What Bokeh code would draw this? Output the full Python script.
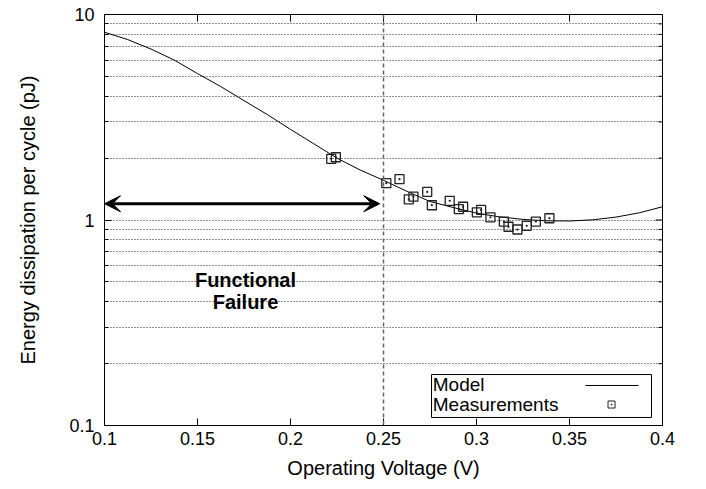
from bokeh.plotting import figure
from bokeh.models import FixedTicker, Span, Arrow, VeeHead, Label, BoxAnnotation
from bokeh.embed import file_html
from bokeh.resources import INLINE

# ---- data ----
voltage_model = [0.1, 0.1125, 0.125, 0.1375, 0.15, 0.1625, 0.175, 0.1875, 0.2, 0.2125,
                 0.225, 0.2375, 0.25, 0.2625, 0.275, 0.2875, 0.3, 0.3125, 0.325, 0.3375,
                 0.35, 0.3625, 0.375, 0.3875, 0.4]
energy_model = [8.20, 7.55, 6.79, 6.00, 5.16, 4.46, 3.81, 3.26, 2.76, 2.35,
                2.00, 1.75, 1.56, 1.38, 1.23, 1.15, 1.08, 1.035, 1.007, 0.991,
                0.989, 1.002, 1.033, 1.084, 1.16]

voltage_meas = [0.2219, 0.2244, 0.2515, 0.2586, 0.2636, 0.2661, 0.2735, 0.2760, 0.2856, 0.2905,
                0.2928, 0.3002, 0.3025, 0.3075, 0.3147, 0.3172, 0.3220, 0.3270, 0.3319, 0.3392]
energy_meas = [1.985, 2.02, 1.51, 1.58, 1.26, 1.30, 1.37, 1.18, 1.24, 1.13,
               1.16, 1.09, 1.12, 1.03, 0.983, 0.927, 0.899, 0.937, 0.983, 1.02]

x_ticks = [0.1, 0.15, 0.2, 0.25, 0.3, 0.35, 0.4]
x_tick_labels = ["0.1", "0.15", "0.2", "0.25", "0.3", "0.35", "0.4"]
y_ticks = [0.1, 1, 10]
y_tick_labels = ["0.1", "1", "10"]
y_minor = [0.2, 0.3, 0.4, 0.5, 0.6, 0.7, 0.8, 0.9, 2, 3, 4, 5, 6, 7, 8, 9]

failure_voltage = 0.25
arrow_level = 1.2

FONT = "Liberation Sans"
X0, X1 = 0.1, 0.4
Y0, Y1 = 0.1, 10

p = figure(width=706, height=489, x_range=(X0, X1), y_range=(Y0, Y1),
           y_axis_type="log", output_backend="svg", toolbar_location=None,
           min_border_left=104, min_border_right=44, min_border_top=14,
           min_border_bottom=64)
p.outline_line_color = "black"
p.outline_line_width = 1
p.background_fill_color = "white"
p.border_fill_color = "white"

xt = FixedTicker(ticks=x_ticks)
yt = FixedTicker(ticks=y_ticks, minor_ticks=y_minor)

# bottom axis
xa = p.xaxis[0]
xa.ticker = xt
xa.major_label_overrides = {v: s for v, s in zip(x_ticks, x_tick_labels)}
xa.axis_label = "Operating Voltage (V)"
xa.axis_label_text_font = FONT
xa.axis_label_text_font_style = "normal"
xa.axis_label_text_font_size = "20px"
xa.axis_label_text_color = "black"
xa.axis_label_standoff = 9
xa.major_label_text_font = FONT
xa.major_label_text_font_size = "18px"
xa.major_label_text_color = "black"
xa.major_label_standoff = 6
xa.major_tick_in = 7
xa.major_tick_out = 0
xa.minor_tick_in = 0
xa.minor_tick_out = 0
xa.axis_line_color = "black"
xa.major_tick_line_color = "black"

# left axis
ya = p.yaxis[0]
ya.ticker = yt
ya.major_label_overrides = {v: s for v, s in zip(y_ticks, y_tick_labels)}
ya.axis_label = "Energy dissipation per cycle (pJ)"
ya.axis_label_text_font = FONT
ya.axis_label_text_font_style = "normal"
ya.axis_label_text_font_size = "20px"
ya.axis_label_text_color = "black"
ya.axis_label_standoff = 27
ya.major_label_text_font = FONT
ya.major_label_text_font_size = "18px"
ya.major_label_text_color = "black"
ya.major_label_standoff = 10
ya.major_tick_in = 7
ya.major_tick_out = 0
ya.minor_tick_in = 4
ya.minor_tick_out = 0
ya.axis_line_color = "black"
ya.major_tick_line_color = "black"
ya.minor_tick_line_color = "black"

# grid
p.xgrid.visible = False
p.ygrid.ticker = yt
p.ygrid.grid_line_color = "#222222"
p.ygrid.grid_line_dash = "1 2"
p.ygrid.grid_line_width = 1
p.ygrid.minor_grid_line_color = "#222222"
p.ygrid.minor_grid_line_dash = "1 2"
p.ygrid.minor_grid_line_width = 1

# mirrored ticks (top and right), lengths in data units of the 558x411 frame
dx_major = 7 / 558 * (X1 - X0)
dy_major = 10 ** (7 / 205.5)
dx_minor = 4 / 558 * (X1 - X0)
p.segment(x0=x_ticks, y0=[Y1] * len(x_ticks), x1=x_ticks, y1=[Y1 / dy_major] * len(x_ticks),
          line_color="black", line_width=1)
p.segment(x0=[X1] * len(y_ticks), y0=y_ticks, x1=[X1 - dx_major] * len(y_ticks), y1=y_ticks,
          line_color="black", line_width=1)
p.segment(x0=[X1] * len(y_minor), y0=y_minor, x1=[X1 - dx_minor] * len(y_minor), y1=y_minor,
          line_color="black", line_width=1)

# failure boundary
p.add_layout(Span(location=failure_voltage, dimension="height", line_color="#666666",
                  line_dash="4 3", line_width=1.5))

# model and measurements
p.line(voltage_model, energy_model, line_color="black", line_width=1)
p.scatter(voltage_meas, energy_meas, marker="square_dot", size=9, fill_color=None,
          line_color="#222222", line_width=1.3)

# double arrow
p.add_layout(Arrow(x_start=0.1, y_start=arrow_level, x_end=0.248, y_end=arrow_level,
                   line_width=3, line_color="black",
                   start=VeeHead(size=16, fill_color="black", line_color="black"),
                   end=VeeHead(size=16, fill_color="black", line_color="black")))

# text
for txt, yy in (("Functional", 0.508), ("Failure", 0.397)):
    p.add_layout(Label(x=0.1758, y=yy, text=txt, text_align="center",
                       text_baseline="middle", text_font=FONT, text_font_style="bold",
                       text_font_size="20px", text_color="black"))

# legend (gnuplot style: text left, sample right)
p.add_layout(BoxAnnotation(left=0.2758, right=0.3941, bottom=0.1094, top=0.177,
                           fill_color="white", fill_alpha=0, line_color="black",
                           line_width=1, line_alpha=1))
p.add_layout(Label(x=0.2765, y=0.1584, text="Model", text_baseline="middle",
                   text_font=FONT, text_font_size="19px", text_color="black"))
p.add_layout(Label(x=0.2765, y=0.1265, text="Measurements", text_baseline="middle",
                   text_font=FONT, text_font_size="19px", text_color="black"))
p.line([0.3586, 0.3871], [0.1566, 0.1566], line_color="black", line_width=1)
p.scatter([0.3726], [0.1265], marker="square_dot", size=7, fill_color=None,
          line_color="#222222", line_width=1)

open("out.html", "w").write(file_html(p, INLINE))
